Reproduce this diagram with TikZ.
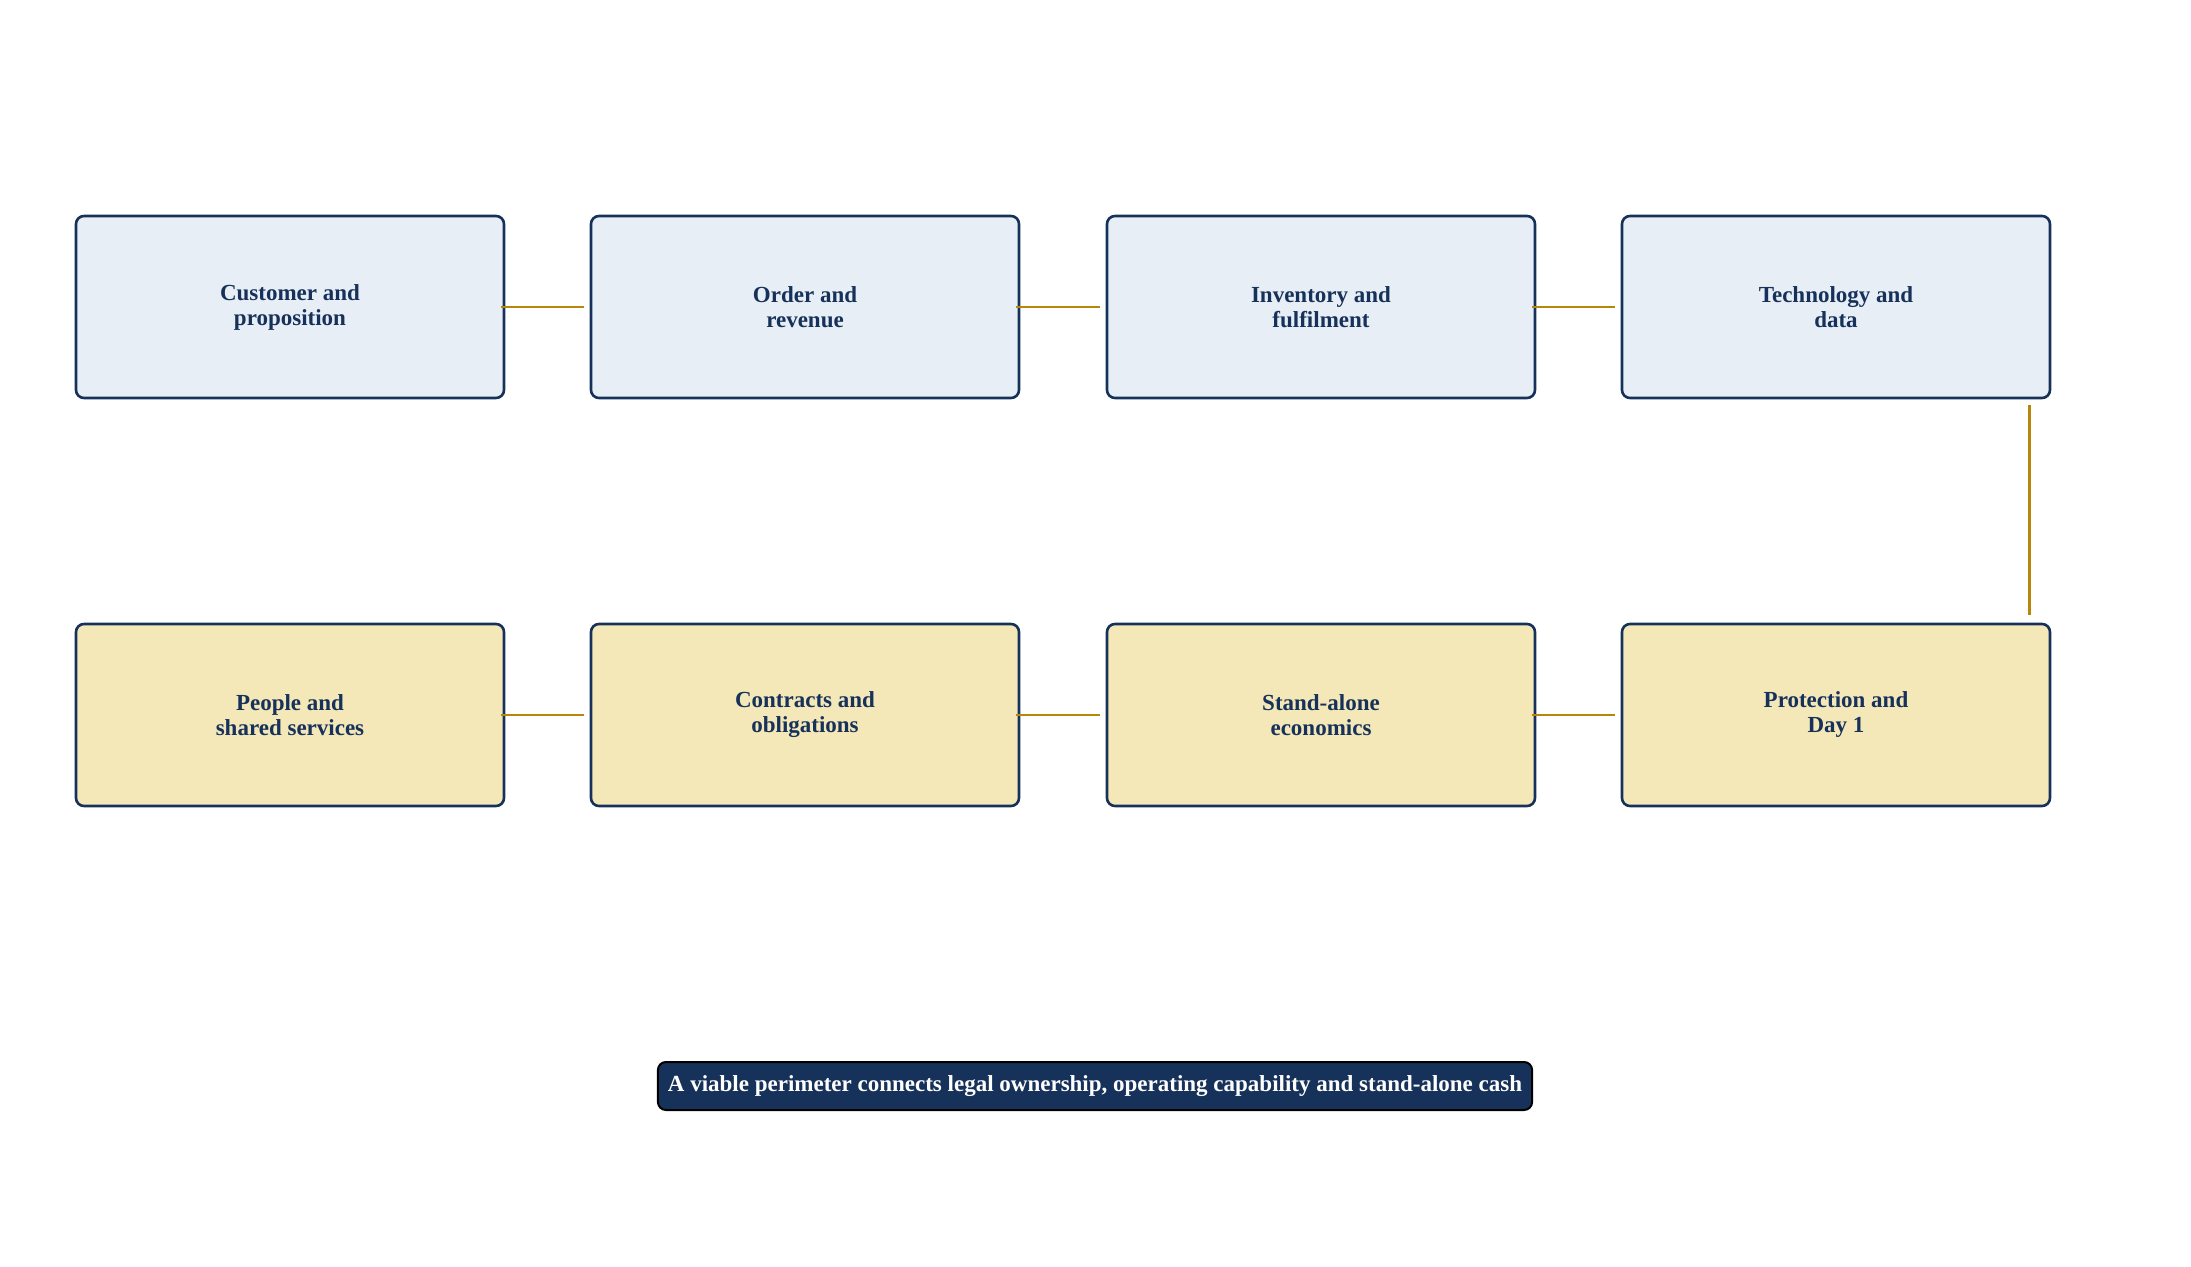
\documentclass[tikz,border=0pt]{standalone}
\usepackage{fontspec}
\setmainfont{Liberation Serif}
\usetikzlibrary{positioning}
\definecolor{navy}{HTML}{17325A}
\definecolor{paleblue}{HTML}{E7EEF6}
\definecolor{paleyellow}{HTML}{F4E7B8}
\definecolor{gold}{HTML}{B8860B}
\begin{document}
\begin{tikzpicture}[x=0.5pt,y=-0.5pt,
 stage/.style={rectangle,rounded corners=4pt,draw=navy,line width=1.3pt,
  minimum width=214pt,minimum height=91pt,align=center,
  font=\bfseries\fontsize{11.5}{12.5}\selectfont,text=navy},
 top stage/.style={stage,fill=paleblue},
 low stage/.style={stage,fill=paleyellow},
 link/.style={draw=gold,line width=1.3pt,shorten >=3pt,shorten <=-2pt}]
  \useasboundingbox (0,0) rectangle (2191,1267);
  \node[top stage] (cust) at (290,307) {Customer and\\proposition};
  \node[top stage] (order) at (805,307) {Order and\\revenue};
  \node[top stage] (inv) at (1321,307) {Inventory and\\fulfilment};
  \node[top stage] (tech) at (1836,307) {Technology and\\data};
  \node[low stage] (people) at (290,715) {People and\\shared services};
  \node[low stage] (contr) at (805,715) {Contracts and\\obligations};
  \node[low stage] (econ) at (1321,715) {Stand-alone\\economics};
  \node[low stage] (prot) at (1836,715) {Protection and\\Day 1};

  \foreach \s/\t in {cust/order, order/inv, inv/tech, people/contr, contr/econ, econ/prot} {
   \path[link] (\s.east) -- (\t.west);}
  \coordinate (techdrop) at ([xshift=-11pt]tech.south east);
  \coordinate (protrise) at ([xshift=-11pt]prot.north east);
  \path[link,shorten <=3pt,shorten >=4pt] (techdrop) -- (protrise);

  \node[fill=navy,draw=black,line width=1pt,rounded corners=4pt,text=white,
   font=\bfseries\fontsize{11.5}{12.5}\selectfont,inner xsep=5pt,minimum height=24pt]
   (note) at (1095,1086) {A viable perimeter connects legal ownership, operating capability and stand-alone cash};
\end{tikzpicture}
\end{document}
